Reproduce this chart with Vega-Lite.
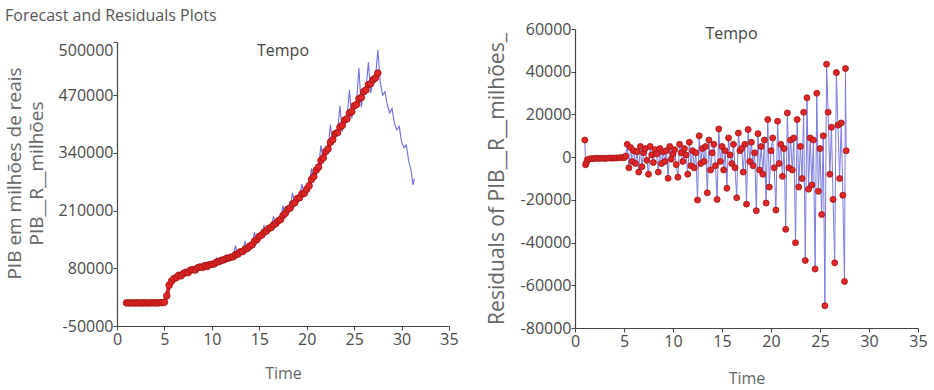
{
  "$schema": "https://vega.github.io/schema/vega-lite/v6.json",
  "background": "white",
  "padding": {"left": 5, "top": 8, "right": 4, "bottom": 2},
  "title": {"text": "Forecast and Residuals Plots", "anchor": "start", "font": "Open Sans", "fontSize": 16, "fontWeight": "normal", "color": "#555555", "offset": -3},
  "bounds": "flush",
  "spacing": 126,
  "config": {
    "font": "Open Sans",
    "view": {"stroke": null},
    "axis": {"labelFont": "Open Sans", "labelFontSize": 16, "labelColor": "#4a4a4a", "titleFont": "Open Sans", "titleFontWeight": "normal", "titleColor": "#666666", "domainColor": "#444444", "tickColor": "#444444", "grid": false, "tickSize": 4, "labelPadding": 0, "domainWidth": 1.2}
  },
  "datasets": {
    "actual": [
      {"t":1,"v":2000},{"t":1.25,"v":1800},{"t":1.5,"v":2100},{"t":1.75,"v":1900},{"t":2,"v":2000},{"t":2.25,"v":2200},{"t":2.5,"v":1900},{"t":2.75,"v":2000},{"t":3,"v":2100},{"t":3.25,"v":1900},{"t":3.5,"v":2000},{"t":3.75,"v":2200},{"t":4,"v":2000},{"t":4.25,"v":2100},{"t":4.5,"v":2300},{"t":4.75,"v":2600},{"t":5,"v":3500},{"t":5.25,"v":18000},{"t":5.5,"v":42000},{"t":5.75,"v":51000},{"t":6,"v":57000},{"t":6.25,"v":59000},{"t":6.5,"v":64000},{"t":6.75,"v":63000},{"t":7,"v":68000},{"t":7.25,"v":71000},{"t":7.5,"v":70000},{"t":7.75,"v":76000},{"t":8,"v":77000},{"t":8.25,"v":76000},{"t":8.5,"v":81000},{"t":8.75,"v":83000},{"t":9,"v":82000},{"t":9.25,"v":86000},{"t":9.5,"v":84000},{"t":9.75,"v":88000},{"t":10,"v":89000},{"t":10.25,"v":90000},{"t":10.5,"v":94000},{"t":10.75,"v":95000},{"t":11,"v":98000},{"t":11.25,"v":99000},{"t":11.5,"v":102000},{"t":11.75,"v":103000},{"t":12,"v":105000},{"t":12.25,"v":106000},{"t":12.5,"v":111000},{"t":12.75,"v":112000},{"t":13,"v":117000},{"t":13.25,"v":118000},{"t":13.5,"v":123000},{"t":13.75,"v":125000},{"t":14,"v":130000},{"t":14.25,"v":133000},{"t":14.5,"v":141000},{"t":14.75,"v":145000},{"t":15,"v":152000},{"t":15.25,"v":155000},{"t":15.5,"v":161000},{"t":15.75,"v":164000},{"t":16,"v":170000},{"t":16.25,"v":172000},{"t":16.5,"v":178000},{"t":16.75,"v":181000},{"t":17,"v":187000},{"t":17.25,"v":190000},{"t":17.5,"v":199000},{"t":17.75,"v":204000},{"t":18,"v":213000},{"t":18.25,"v":216000},{"t":18.5,"v":225000},{"t":18.75,"v":228000},{"t":19,"v":237000},{"t":19.25,"v":239000},{"t":19.5,"v":248000},{"t":19.75,"v":249000},{"t":20,"v":258000},{"t":20.25,"v":266000},{"t":20.5,"v":280000},{"t":20.75,"v":287000},{"t":21,"v":301000},{"t":21.25,"v":308000},{"t":21.5,"v":323000},{"t":21.75,"v":329000},{"t":22,"v":343000},{"t":22.25,"v":349000},{"t":22.5,"v":364000},{"t":22.75,"v":370000},{"t":23,"v":383000},{"t":23.25,"v":386000},{"t":23.5,"v":398000},{"t":23.75,"v":402000},{"t":24,"v":414000},{"t":24.25,"v":417000},{"t":24.5,"v":430000},{"t":24.75,"v":433000},{"t":25,"v":446000},{"t":25.25,"v":449000},{"t":25.5,"v":462000},{"t":25.75,"v":465000},{"t":26,"v":478000},{"t":26.25,"v":482000},{"t":26.5,"v":494000},{"t":26.75,"v":496000},{"t":27,"v":505000},{"t":27.25,"v":509000},{"t":27.5,"v":520000}
    ],
    "forecast": [
      {"t":1,"v":2000},{"t":1.25,"v":1900},{"t":1.5,"v":2000},{"t":1.75,"v":2000},{"t":2,"v":2000},{"t":2.25,"v":2100},{"t":2.5,"v":2000},{"t":2.75,"v":2000},{"t":3,"v":2000},{"t":3.25,"v":2000},{"t":3.5,"v":2000},{"t":3.75,"v":2100},{"t":4,"v":2000},{"t":4.25,"v":2100},{"t":4.5,"v":2200},{"t":4.75,"v":2500},{"t":5,"v":3000},{"t":5.25,"v":15000},{"t":5.5,"v":44000},{"t":5.75,"v":50000},{"t":6,"v":58000},{"t":6.25,"v":60000},{"t":6.5,"v":71000},{"t":6.75,"v":61000},{"t":7,"v":69000},{"t":7.25,"v":71000},{"t":7.5,"v":78000},{"t":7.75,"v":73000},{"t":8,"v":78000},{"t":8.25,"v":77000},{"t":8.5,"v":88000},{"t":8.75,"v":80000},{"t":9,"v":83000},{"t":9.25,"v":86000},{"t":9.5,"v":94000},{"t":9.75,"v":85000},{"t":10,"v":89000},{"t":10.25,"v":91000},{"t":10.5,"v":103000},{"t":10.75,"v":92000},{"t":11,"v":98000},{"t":11.25,"v":100000},{"t":11.5,"v":110000},{"t":11.75,"v":99000},{"t":12,"v":105000},{"t":12.25,"v":107000},{"t":12.5,"v":131000},{"t":12.75,"v":106000},{"t":13,"v":117000},{"t":13.25,"v":119000},{"t":13.5,"v":140000},{"t":13.75,"v":120000},{"t":14,"v":130000},{"t":14.25,"v":134000},{"t":14.5,"v":161000},{"t":14.75,"v":138000},{"t":15,"v":151000},{"t":15.25,"v":156000},{"t":15.5,"v":176000},{"t":15.75,"v":158000},{"t":16,"v":170000},{"t":16.25,"v":173000},{"t":16.5,"v":197000},{"t":16.75,"v":175000},{"t":17,"v":187000},{"t":17.25,"v":191000},{"t":17.5,"v":221000},{"t":17.75,"v":197000},{"t":18,"v":213000},{"t":18.25,"v":217000},{"t":18.5,"v":250000},{"t":18.75,"v":222000},{"t":19,"v":237000},{"t":19.25,"v":240000},{"t":19.5,"v":270000},{"t":19.75,"v":241000},{"t":20,"v":257000},{"t":20.25,"v":267000},{"t":20.5,"v":305000},{"t":20.75,"v":278000},{"t":21,"v":300000},{"t":21.25,"v":309000},{"t":21.5,"v":357000},{"t":21.75,"v":318000},{"t":22,"v":342000},{"t":22.25,"v":350000},{"t":22.5,"v":404000},{"t":22.75,"v":360000},{"t":23,"v":382000},{"t":23.25,"v":387000},{"t":23.5,"v":446000},{"t":23.75,"v":388000},{"t":24,"v":413000},{"t":24.25,"v":418000},{"t":24.5,"v":482000},{"t":24.75,"v":418000},{"t":25,"v":445000},{"t":25.25,"v":450000},{"t":25.5,"v":532000},{"t":25.75,"v":443000},{"t":26,"v":477000},{"t":26.25,"v":483000},{"t":26.5,"v":544000},{"t":26.75,"v":475000},{"t":27,"v":504000},{"t":27.25,"v":510000},{"t":27.5,"v":572000},{"t":27.75,"v":500000},{"t":28,"v":470000},{"t":28.25,"v":478000},{"t":28.5,"v":448000},{"t":28.75,"v":430000},{"t":29,"v":440000},{"t":29.25,"v":406000},{"t":29.5,"v":392000},{"t":29.75,"v":400000},{"t":30,"v":365000},{"t":30.25,"v":352000},{"t":30.5,"v":358000},{"t":30.75,"v":322000},{"t":31,"v":300000},{"t":31.2,"v":268000},{"t":31.35,"v":282000}
    ],
    "resid": [
      {"t":1,"v":8000},{"t":1.08,"v":-3600},{"t":1.17,"v":-2500},{"t":1.25,"v":-1200},{"t":1.5,"v":-800},{"t":1.75,"v":-700},{"t":2,"v":-600},{"t":2.25,"v":-500},{"t":2.5,"v":-600},{"t":2.75,"v":-500},{"t":3,"v":-600},{"t":3.25,"v":-500},{"t":3.5,"v":-400},{"t":3.75,"v":-500},{"t":4,"v":-400},{"t":4.25,"v":-400},{"t":4.5,"v":-300},{"t":4.75,"v":-200},{"t":5,"v":-300},
      {"t":5.17,"v":500},{"t":5.33,"v":6000},{"t":5.5,"v":-5000},{"t":5.67,"v":4500},{"t":5.83,"v":-2000},
      {"t":6,"v":3000},{"t":6.17,"v":-3000},{"t":6.33,"v":2500},{"t":6.5,"v":-7000},{"t":6.67,"v":5000},{"t":6.83,"v":-4500},
      {"t":7,"v":2000},{"t":7.17,"v":4000},{"t":7.33,"v":-1500},{"t":7.5,"v":-8000},{"t":7.67,"v":5000},{"t":7.83,"v":1000},
      {"t":8,"v":-2500},{"t":8.17,"v":3500},{"t":8.33,"v":1500},{"t":8.5,"v":-7000},{"t":8.67,"v":4000},{"t":8.83,"v":-3000},
      {"t":9,"v":2500},{"t":9.17,"v":-2000},{"t":9.33,"v":3000},{"t":9.5,"v":-9900},{"t":9.67,"v":5000},{"t":9.83,"v":-1000},
      {"t":10,"v":1500},{"t":10.17,"v":3500},{"t":10.33,"v":-3500},{"t":10.5,"v":-9400},{"t":10.67,"v":6000},{"t":10.83,"v":2000},
      {"t":11,"v":-2000},{"t":11.17,"v":4000},{"t":11.33,"v":1000},{"t":11.5,"v":-8000},{"t":11.67,"v":7000},{"t":11.83,"v":-4000},
      {"t":12,"v":3000},{"t":12.17,"v":-5000},{"t":12.33,"v":2000},{"t":12.5,"v":-20100},{"t":12.67,"v":10000},{"t":12.83,"v":-3000},
      {"t":13,"v":4000},{"t":13.17,"v":-2000},{"t":13.33,"v":5000},{"t":13.5,"v":-16700},{"t":13.67,"v":8000},{"t":13.83,"v":-6000},
      {"t":14,"v":2000},{"t":14.17,"v":6000},{"t":14.33,"v":-4000},{"t":14.5,"v":-19800},{"t":14.67,"v":13200},{"t":14.83,"v":-2000},
      {"t":15,"v":5000},{"t":15.17,"v":-6000},{"t":15.33,"v":3000},{"t":15.5,"v":-14600},{"t":15.67,"v":9000},{"t":15.83,"v":1000},
      {"t":16,"v":-3000},{"t":16.17,"v":6000},{"t":16.33,"v":-5000},{"t":16.5,"v":-19000},{"t":16.67,"v":11300},{"t":16.83,"v":3000},
      {"t":17,"v":4000},{"t":17.17,"v":-7000},{"t":17.33,"v":6000},{"t":17.5,"v":-22000},{"t":17.67,"v":12900},{"t":17.83,"v":-2000},
      {"t":18,"v":7000},{"t":18.17,"v":-4000},{"t":18.33,"v":2000},{"t":18.5,"v":-25100},{"t":18.67,"v":11000},{"t":18.83,"v":-6000},
      {"t":19,"v":5000},{"t":19.17,"v":-8000},{"t":19.33,"v":8000},{"t":19.5,"v":-21500},{"t":19.67,"v":17600},{"t":19.83,"v":-14000},
      {"t":20,"v":3000},{"t":20.17,"v":9000},{"t":20.33,"v":-5000},{"t":20.5,"v":-24800},{"t":20.67,"v":16800},{"t":20.83,"v":-3000},
      {"t":21,"v":6000},{"t":21.17,"v":-9000},{"t":21.33,"v":4000},{"t":21.5,"v":-33800},{"t":21.67,"v":20700},{"t":21.83,"v":-5000},
      {"t":22,"v":8000},{"t":22.17,"v":-6000},{"t":22.33,"v":9000},{"t":22.5,"v":-40100},{"t":22.67,"v":17600},{"t":22.83,"v":-14000},
      {"t":23,"v":5000},{"t":23.17,"v":-10000},{"t":23.33,"v":21000},{"t":23.5,"v":-48400},{"t":23.67,"v":27800},{"t":23.83,"v":-15000},
      {"t":24,"v":9000},{"t":24.17,"v":-13000},{"t":24.33,"v":8000},{"t":24.5,"v":-52400},{"t":24.67,"v":29900},{"t":24.83,"v":-16000},
      {"t":25,"v":4000},{"t":25.17,"v":-26900},{"t":25.33,"v":10000},{"t":25.5,"v":-69600},{"t":25.67,"v":43500},{"t":25.83,"v":21000},
      {"t":26,"v":-8000},{"t":26.17,"v":14000},{"t":26.33,"v":-19800},{"t":26.5,"v":-49500},{"t":26.67,"v":39600},{"t":26.83,"v":15000},
      {"t":27,"v":-10000},{"t":27.17,"v":16000},{"t":27.33,"v":-17800},{"t":27.5,"v":-58200},{"t":27.6,"v":41500},{"t":27.67,"v":3000}
    ]
  },
  "hconcat": [
    {
      "width": 332,
      "height": 299,
      "title": {"text": "Tempo", "font": "Open Sans", "fontSize": 16, "fontWeight": "normal", "color": "#444444", "baseline": "middle", "offset": -38},
      "encoding": {
        "x": {"field": "t", "type": "quantitative", "scale": {"domain": [0, 35], "nice": false, "zero": false},
              "axis": {"values": [0, 5, 10, 15, 20, 25, 30, 35], "title": "Time", "titleFontSize": 16, "titlePadding": 18, "labelFlush": false, "labelPadding": 1, "offset": -2}},
        "y": {"field": "v", "type": "quantitative", "scale": {"domain": [-50000, 590000], "range": [297, 13], "nice": false, "zero": false},
              "axis": {"values": [-50000, 80000, 210000, 340000, 470000, 590000], "format": "d",
                       "labelExpr": "datum.value == 590000 ? '500000' : replace(datum.label, '\u2212', '-')",
                       "labelBaseline": {"condition": {"test": "datum.value == 590000", "value": "top"}, "value": "middle"},
                       "title": ["PIB em milhões de reais", "PIB__R__milhões"], "titleFontSize": 19, "titleLineHeight": 22, "titlePadding": 12, "titleY": 144}}
      },
      "layer": [
        {"data": {"name": "forecast"}, "mark": {"type": "line", "color": "#6f6fdc", "strokeWidth": 1.1}},
        {"data": {"name": "actual"}, "mark": {"type": "line", "color": "#d42020", "strokeWidth": 4}},
        {"data": {"name": "actual"}, "mark": {"type": "point", "filled": true, "shape": "circle", "size": 44, "fill": "#e02626", "stroke": "#9e1010", "strokeWidth": 0.8, "opacity": 1}}
      ]
    },
    {
      "width": 343,
      "height": 299,
      "title": {"text": "Tempo", "font": "Open Sans", "fontSize": 16, "fontWeight": "normal", "color": "#444444", "baseline": "middle", "offset": -29, "dx": -15},
      "encoding": {
        "x": {"field": "t", "type": "quantitative", "scale": {"domain": [0, 35], "nice": false, "zero": false},
              "axis": {"values": [0, 5, 10, 15, 20, 25, 30, 35], "title": "Time", "titleFontSize": 16, "titlePadding": 21, "labelFlush": false, "labelPadding": 1}},
        "y": {"field": "v", "type": "quantitative", "scale": {"domain": [-80000, 60000], "nice": false, "zero": false},
              "axis": {"values": [-80000, -60000, -40000, -20000, 0, 20000, 40000, 60000], "format": "d",
                       "labelExpr": "replace(datum.label, '\u2212', '-')",
                       "title": "Residuals of PIB__R__milhões_", "titleFontSize": 21, "titlePadding": 13}}
      },
      "layer": [
        {"mark": {"type": "rule", "color": "#8a8a8a", "strokeWidth": 1.5}, "encoding": {"y": {"datum": 0}, "x": {"value": 0}, "x2": {"value": 345}}},
        {"data": {"name": "resid"}, "mark": {"type": "line", "color": "#7a7ae0", "strokeWidth": 1}},
        {"data": {"name": "resid"}, "mark": {"type": "point", "filled": true, "shape": "circle", "size": 36, "fill": "#e02626", "stroke": "#9e1010", "strokeWidth": 0.8, "opacity": 1}}
      ]
    }
  ]
}
